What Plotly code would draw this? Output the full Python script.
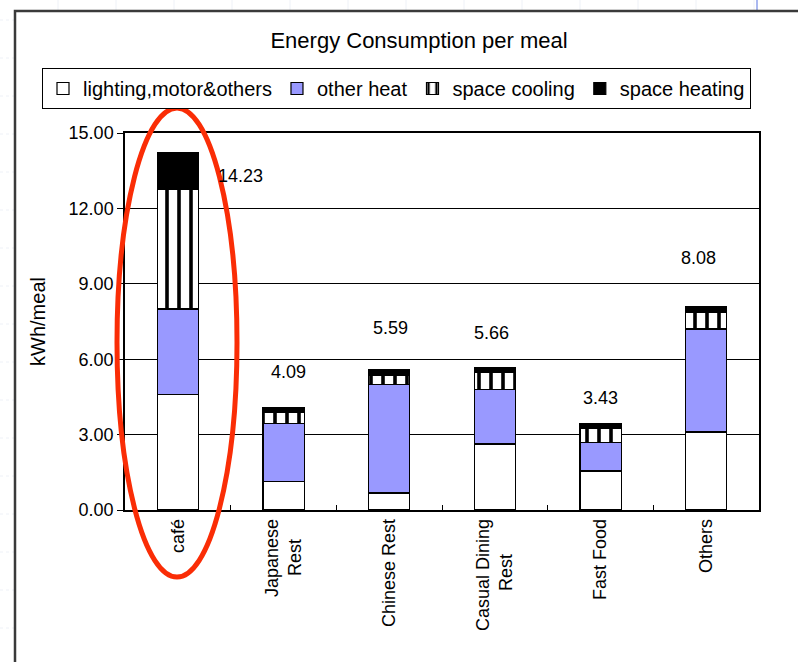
import plotly.graph_objects as go

# Energy use per meal, split by end use (kWh/meal)
NB = "\u00a0"
categories = ["café", "Japanese<br>Rest" + NB * 4, "Chinese Rest",
              "Casual Dining<br>Rest" + NB * 7, "Fast Food", "Others"]
lighting_motor_others = [4.60, 1.15, 0.68, 2.63, 1.55, 3.10]
other_heat = [3.40, 2.30, 4.31, 2.15, 1.13, 4.10]
space_cooling = [4.75, 0.42, 0.36, 0.68, 0.55, 0.68]
space_heating = [1.48, 0.22, 0.24, 0.20, 0.20, 0.20]
totals = [14.23, 4.09, 5.59, 5.66, 3.43, 8.08]

FONT = "Liberation Sans, Arial, sans-serif"

# plot-area geometry in pixels (used to place the frame, legend and highlight)
W_PX, H_PX = 798, 662
L, R, T, B = 125, 759, 133, 510


def px(x):
    return (x - L) / (R - L)


def py(y):
    return (B - y) / (B - T)


fig = go.Figure()

series = [
    ("lighting,motor&others", lighting_motor_others, dict(color="white")),
    ("other heat", other_heat, dict(color="#9999ff")),
    ("space cooling", space_cooling,
     dict(color="white", pattern=dict(shape="|", fgcolor="black", bgcolor="white",
                                      fgopacity=1, size=12, solidity=0.3,
                                      fillmode="replace"))),
    ("space heating", space_heating, dict(color="black")),
]

for name, vals, marker in series:
    marker = dict(marker, line=dict(color="black", width=1.2))
    fig.add_trace(go.Bar(name=name, x=categories, y=vals, marker=marker,
                         hoverinfo="name+y"))

# total labels above each stack
label_dx = [63, 5, 1, -3, 0, -8]
label_dy = [-24, 35, 42, 35, 26, 49]
for cat, tot, dx, dy in zip(categories, totals, label_dx, label_dy):
    fig.add_annotation(x=cat, y=tot, text=f"{tot:.2f}", showarrow=False,
                       xshift=dx, yshift=dy,
                       font=dict(family=FONT, size=18, color="black"))

shapes = []

# faint graph-paper lines behind the chart frame
for gx in range(58, 760, 58):
    shapes.append(dict(type="line", xref="paper", yref="paper",
                       x0=px(gx), x1=px(gx), y0=py(0), y1=py(11),
                       line=dict(color="#eef1f7", width=1), layer="below"))
for gy in range(20, 662, 38):
    shapes.append(dict(type="line", xref="paper", yref="paper",
                       x0=px(0), x1=px(14), y0=py(gy), y1=py(gy),
                       line=dict(color="#eef1f7", width=1, dash="dot"), layer="below"))
shapes.append(dict(type="line", xref="paper", yref="paper",
                   x0=px(757), x1=px(757), y0=py(0), y1=py(12),
                   line=dict(color="#aab8f0", width=2), layer="below"))

# outer chart frame
shapes.append(dict(type="rect", xref="paper", yref="paper",
                   x0=px(15), x1=px(900), y0=py(750), y1=py(11),
                   line=dict(color="#3a3a3a", width=2.5), layer="below"))

# red highlight ellipse round the café bar
shapes.append(dict(type="circle", xref="paper", yref="paper",
                   x0=px(117), x1=px(237), y0=py(577), y1=py(108),
                   line=dict(color="#fa2d06", width=5), layer="above"))

fig.update_layout(
    width=W_PX, height=H_PX, autosize=False,
    margin=dict(l=L, r=W_PX - R, t=T, b=H_PX - B),
    barmode="stack", bargap=0.61,
    paper_bgcolor="white", plot_bgcolor="white",
    font=dict(family=FONT, color="black"),
    title=dict(text="Energy Consumption per meal", x=px(419), xref="paper", xanchor="center",
               y=1 - 40 / H_PX, yref="container", yanchor="middle",
               font=dict(family=FONT, size=22, color="black")),
    legend=dict(orientation="h", x=px(42), xanchor="left", y=py(68), yanchor="top",
                bordercolor="black", borderwidth=1, bgcolor="white",
                font=dict(family=FONT, size=20, color="black"),
                traceorder="normal", itemclick=False, itemdoubleclick=False,
                tracegroupgap=0, itemwidth=30),
    xaxis=dict(type="category", tickangle=-90, tickfont=dict(family=FONT, size=18),
               showline=True, linecolor="black", linewidth=1.5, mirror=True,
               ticks="inside", tickson="boundaries", ticklen=5, tickcolor="black",
               showgrid=False, fixedrange=True),
    yaxis=dict(range=[0, 15], dtick=3, tickformat=".2f",
               tickfont=dict(family=FONT, size=18),
               showline=True, linecolor="black", linewidth=1.5, mirror=True,
               ticks="outside", ticklen=6, tickcolor="black",
               showgrid=True, gridcolor="black", gridwidth=1, zeroline=False,
               title=dict(text="kWh/meal", font=dict(family=FONT, size=20), standoff=18),
               fixedrange=True),
    shapes=shapes,
)

fig.write_html("out.html")
